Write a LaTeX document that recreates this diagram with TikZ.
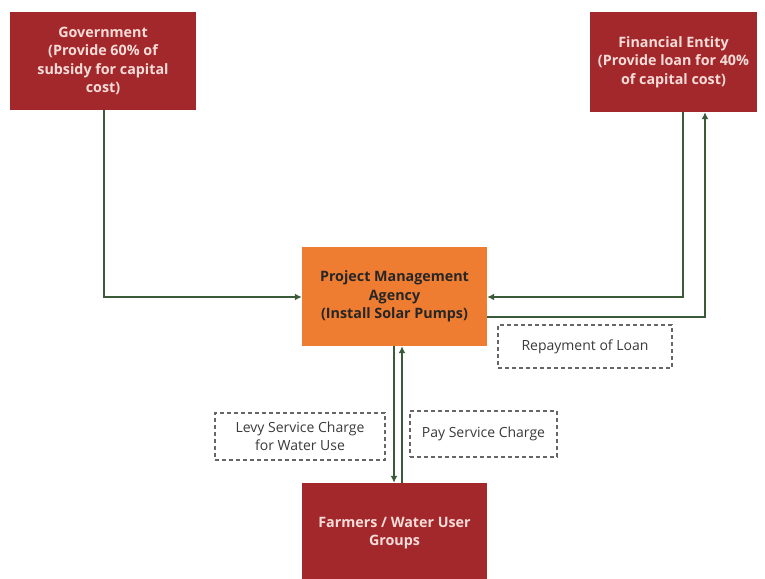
\documentclass[tikz,border=0pt]{standalone}
\usepackage{fontspec}
\setmainfont{Open Sans}
\usetikzlibrary{arrows.meta}
\definecolor{boxred}{HTML}{A3282C}
\definecolor{pmaorange}{HTML}{EE7D32}
\definecolor{linegreen}{HTML}{3B5A3A}
\definecolor{redtext}{HTML}{F6DCD8}
\definecolor{labeltext}{HTML}{3A3A3A}
\tikzset{
  redbox/.style={fill=boxred, text=redtext, font=\bfseries\fontsize{14.3}{18.5}\selectfont, align=center, inner sep=0pt},
  orangebox/.style={fill=pmaorange, text=black!85, font=\bfseries\fontsize{14.3}{18.5}\selectfont, align=center, inner sep=0pt},
  notebox/.style={draw=gray!80!black, dash pattern=on 4pt off 3pt, line width=1.4pt, text=labeltext, font=\fontsize{14}{18}\selectfont, align=center, inner sep=0pt},
  flow/.style={draw=linegreen, line width=2.5pt, -{Latex[length=7pt,width=7pt]}}
}
\begin{document}
\begin{tikzpicture}[x=1pt,y=-1pt]
  \useasboundingbox (0,0) rectangle (765,578);
  % boxes
  \node[redbox, minimum width=186pt, minimum height=98pt] (gov) at (103,61)
    {Government\\(Provide 60\% of\\subsidy for capital\\cost)};
  \node[redbox, minimum width=167pt, minimum height=100pt] (fin) at (673.5,62)
    {Financial Entity\\(Provide loan for 40\%\\of capital cost)};
  \node[orangebox, minimum width=185pt, minimum height=99pt] (pma) at (394.5,296.5)
    {Project Management\\Agency\\(Install Solar Pumps)};
  \node[redbox, minimum width=185pt, minimum height=100pt] (farm) at (394.5,533)
    {Farmers / Water User\\Groups};
  % dashed labels
  \node[notebox, minimum width=174pt, minimum height=43pt] (repay) at (585,346.5) {Repayment of Loan};
  \node[notebox, minimum width=170pt, minimum height=47pt] (levy) at (300,436.5) {Levy Service Charge\\for Water Use};
  \node[notebox, minimum width=147pt, minimum height=46pt] (pay) at (483.5,434) {Pay Service Charge};
  % connectors
  \coordinate (govdown) at (104,297);
  \coordinate (findown) at (683,297);
  \coordinate (repcorner) at (705,317);
  \draw[flow] (gov.south -| govdown) -- (govdown) -- (pma.west |- govdown);
  \draw[flow] (fin.south -| findown) -- (findown) -- (pma.east |- findown);
  \draw[flow] (pma.east |- repcorner) -- (repcorner) -- (fin.south -| repcorner);
  \draw[flow] ([xshift=-0.5pt]pma.south) -- ([xshift=-0.5pt]farm.north);
  \draw[flow] ([xshift=7.5pt]farm.north) -- ([xshift=7.5pt]pma.south);
\end{tikzpicture}
\end{document}
